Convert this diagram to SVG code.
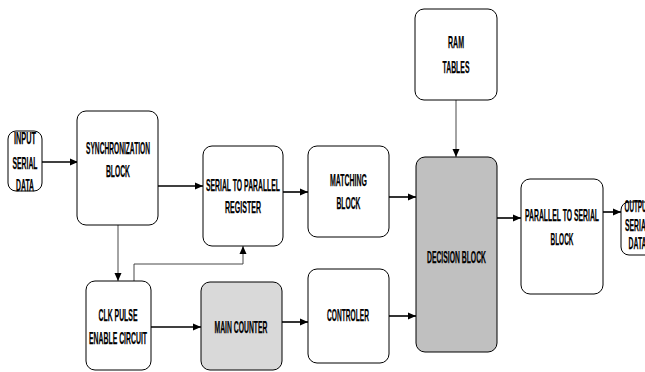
<svg xmlns="http://www.w3.org/2000/svg" width="645" height="372" viewBox="0 0 645 372">
<defs>
<style>
.box{fill:#fff;stroke:#000;stroke-width:1}
.t{font-family:"Liberation Sans",Arial,sans-serif;font-weight:bold;font-size:17px;text-anchor:middle;fill:#000;stroke:#000;stroke-width:0.25}
.c{fill:none;stroke:#000;stroke-width:1.6}
.thin{fill:none;stroke:#333;stroke-width:0.9}
</style>
<marker id="ah" markerUnits="userSpaceOnUse" markerWidth="8" markerHeight="8" viewBox="0 0 8 8" refX="8" refY="4" orient="auto">
<path d="M0,0.5 L8,4 L0,7.5 Z" fill="#000"/>
</marker>
</defs>
<rect width="645" height="372" fill="#fff"/>
<g id="connectors">
<path class="c" d="M42,162 H78" marker-end="url(#ah)"/>
<path class="c" d="M158,186 H203" marker-end="url(#ah)"/>
<path class="c" d="M283,192 H308" marker-end="url(#ah)"/>
<path class="c" d="M389,197 H416" marker-end="url(#ah)"/>
<path class="thin" d="M456,100 V157" marker-end="url(#ah)"/>
<path class="c" d="M497,218 H521" marker-end="url(#ah)"/>
<path class="c" d="M603,212 H621" marker-end="url(#ah)"/>
<path class="thin" d="M118,225 V281" marker-end="url(#ah)"/>
<path class="thin" d="M134,281 V264 H243 V246" marker-end="url(#ah)"/>
<path class="c" d="M151,327 H201" marker-end="url(#ah)"/>
<path class="c" d="M282,322 H308" marker-end="url(#ah)"/>
<path class="c" d="M389,316 H416" marker-end="url(#ah)"/>
</g>
<g id="input">
<rect class="box" x="8" y="131" width="34" height="60" rx="8"/>
<text class="t" x="25" y="144" textLength="22" lengthAdjust="spacingAndGlyphs">INPUT</text>
<text class="t" x="25" y="169" textLength="25" lengthAdjust="spacingAndGlyphs">SERIAL</text>
<text class="t" x="25" y="191" textLength="18" lengthAdjust="spacingAndGlyphs">DATA</text>
</g>
<g id="sync">
<rect class="box" x="77" y="111" width="81" height="114" rx="9"/>
<text class="t" x="118" y="154" textLength="64" lengthAdjust="spacingAndGlyphs">SYNCHRONIZATION</text>
<text class="t" x="118" y="177" textLength="24" lengthAdjust="spacingAndGlyphs">BLOCK</text>
</g>
<g id="s2p">
<rect class="box" x="203" y="146" width="80" height="100" rx="9"/>
<text class="t" x="243" y="191" textLength="74" lengthAdjust="spacingAndGlyphs">SERIAL TO PARALLEL</text>
<text class="t" x="243" y="213" textLength="36" lengthAdjust="spacingAndGlyphs">REGISTER</text>
</g>
<g id="matching">
<rect class="box" x="308" y="146" width="81" height="91" rx="9"/>
<text class="t" x="348.5" y="186" textLength="37" lengthAdjust="spacingAndGlyphs">MATCHING</text>
<text class="t" x="348.5" y="209" textLength="24" lengthAdjust="spacingAndGlyphs">BLOCK</text>
</g>
<g id="ram">
<rect class="box" x="415" y="9" width="82" height="91" rx="9"/>
<text class="t" x="456" y="48" textLength="16" lengthAdjust="spacingAndGlyphs">RAM</text>
<text class="t" x="456" y="73" textLength="27" lengthAdjust="spacingAndGlyphs">TABLES</text>
</g>
<g id="decision">
<rect class="box" x="416" y="157" width="81" height="195" rx="9" style="fill:#c0c0c0"/>
<text class="t" x="456.5" y="263" textLength="59" lengthAdjust="spacingAndGlyphs">DECISION BLOCK</text>
</g>
<g id="p2s">
<rect class="box" x="521" y="179" width="82" height="115" rx="9"/>
<text class="t" x="562" y="221" textLength="74" lengthAdjust="spacingAndGlyphs">PARALLEL TO SERIAL</text>
<text class="t" x="562" y="245" textLength="23" lengthAdjust="spacingAndGlyphs">BLOCK</text>
</g>
<g id="output">
<rect class="box" x="621" y="202" width="34" height="53" rx="8"/>
<text class="t" x="637.5" y="212" textLength="26" lengthAdjust="spacingAndGlyphs">OUTPUT</text>
<text class="t" x="637.5" y="231" textLength="25" lengthAdjust="spacingAndGlyphs">SERIAL</text>
<text class="t" x="637.5" y="249" textLength="18" lengthAdjust="spacingAndGlyphs">DATA</text>
</g>
<g id="clk">
<rect class="box" x="86" y="281" width="65" height="89" rx="9"/>
<text class="t" x="118" y="321" textLength="39" lengthAdjust="spacingAndGlyphs">CLK PULSE</text>
<text class="t" x="118" y="344" textLength="58" lengthAdjust="spacingAndGlyphs">ENABLE CIRCUIT</text>
</g>
<g id="maincounter">
<rect class="box" x="201" y="282" width="81" height="88" rx="9" style="fill:#d9d9d9"/>
<text class="t" x="241" y="333" textLength="53" lengthAdjust="spacingAndGlyphs">MAIN COUNTER</text>
</g>
<g id="controler">
<rect class="box" x="308" y="269" width="81" height="94" rx="9"/>
<text class="t" x="348" y="321" textLength="42" lengthAdjust="spacingAndGlyphs">CONTROLER</text>
</g>
</svg>
